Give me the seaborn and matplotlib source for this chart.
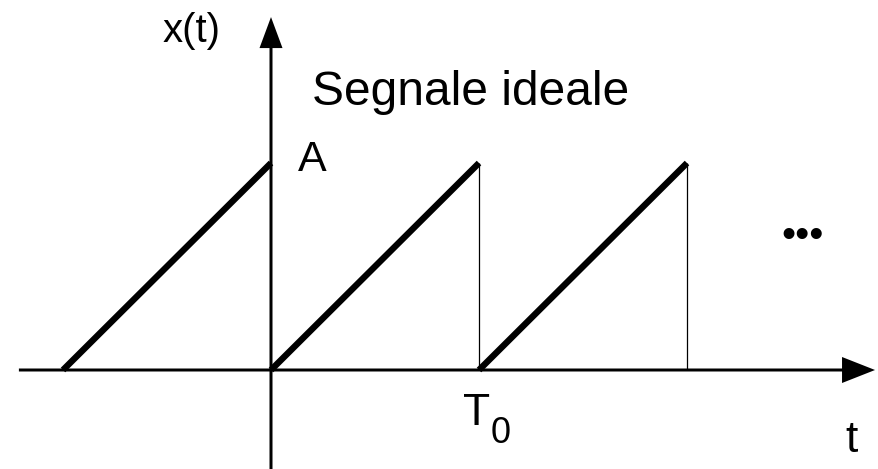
import matplotlib
matplotlib.use("Agg")
import matplotlib.pyplot as plt
import seaborn as sns
import pandas as pd
import numpy as np

# ---- data (units: time in periods T0, amplitude in A) ----
period_starts = [-1.0, 0.0, 1.0]      # start of each ramp
period = 1.0                           # T0
amplitude = 1.0                        # A
drop_lines_t = [1.0, 2.0]              # thin vertical falls
title_text = "Segnale ideale"
ylabel_text = "x(t)"
xlabel_text = "t"
amp_label = "A"
period_label = "T"
period_sub = "0"

sns.set_theme(style="white")
plt.rcParams['font.family'] = ['Liberation Sans', 'DejaVu Sans']
plt.rcParams['text.color'] = 'black'

rows = []
for i, s in enumerate(period_starts):
    rows.append({"seg": i, "t": s, "x": 0.0})
    rows.append({"seg": i, "t": s + period, "x": amplitude})
df = pd.DataFrame(rows)

fig = plt.figure(figsize=(8.79, 4.69), dpi=100)
ax = fig.add_axes([0, 0, 1, 1])

# pixel mapping: t=0 at x=271px, 208 px per period; x=0 at y=370px, 207 px per A
px_t, px_x = 208.0, 207.0
ax.set_xlim(-271 / px_t, (879 - 271) / px_t)
ax.set_ylim((370 - 469) / px_x, 370 / px_x)
ax.axis("off")

# axes with arrows
ax.arrow(-1.212, 0, 2.904 + 1.212, 0, width=3 / px_x, head_width=26 / px_x,
         head_length=33 / px_t, length_includes_head=True, color="black", lw=0)
ax.arrow(0, -0.6, 0, 1.705 + 0.6, width=3 / px_t, head_width=23 / px_t,
         head_length=31 / px_x, length_includes_head=True, color="black", lw=0)

# sawtooth ramps
sns.lineplot(data=df, x="t", y="x", units="seg", estimator=None, sort=False,
             color="black", lw=4.6, ax=ax, legend=False)
for ln in ax.lines:
    ln.set_solid_capstyle("butt")

# thin drops
ax.vlines(drop_lines_t, 0, amplitude, color="black", lw=0.9)

def P(px, py):
    return (px - 271) / px_t, (370 - py) / px_x

ax.text(*P(163, 42), ylabel_text, fontsize=29, ha="left", va="baseline", color="black")
ax.text(*P(312, 105), title_text, fontsize=34.5, ha="left", va="baseline", color="black")
ax.text(*P(298, 171), amp_label, fontsize=31, ha="left", va="baseline", color="black")
ax.text(*P(463, 425), period_label, fontsize=32, ha="left", va="baseline", color="black")
ax.text(*P(491, 443), period_sub, fontsize=26, ha="left", va="baseline", color="black")
ax.text(*P(845, 452), xlabel_text, fontsize=32, ha="left", va="baseline", color="black")
ax.text(*P(803, 247), "\u2022\u2022\u2022", fontsize=29, ha="center", va="baseline", color="black")

fig.savefig("out.png", dpi=100)
